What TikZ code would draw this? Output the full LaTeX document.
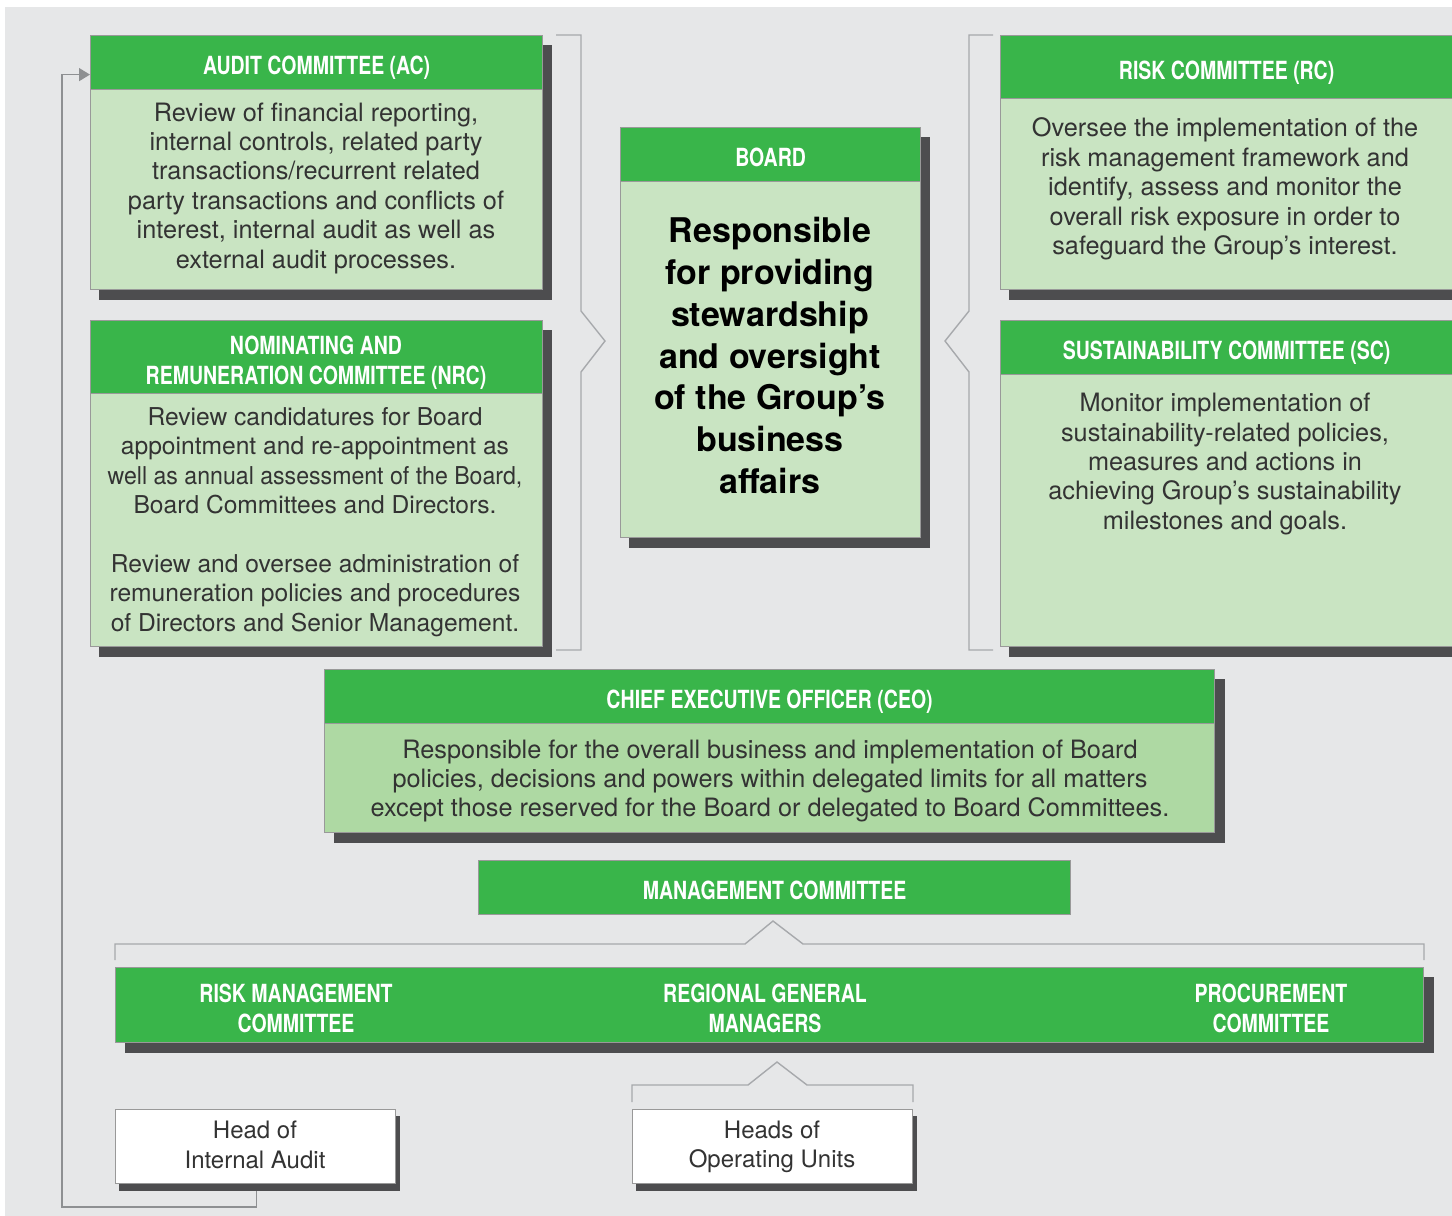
\documentclass[tikz,border=0pt]{standalone}
\usepackage{fontspec}
\usepackage{graphicx}
\setmainfont{TeX Gyre Heros}
\newfontfamily\hdrfont[FakeStretch=0.78]{TeX Gyre Heros}
\usetikzlibrary{arrows.meta,calc}
\definecolor{bggray}{HTML}{E6E7E8}
\definecolor{grn}{HTML}{39B54A}
\definecolor{lgrn}{HTML}{C9E4C2}
\definecolor{mgrn}{HTML}{AED9A3}
\definecolor{shd}{HTML}{4D4D4F}
\definecolor{bord}{HTML}{999999}
\definecolor{txt}{HTML}{333333}
\definecolor{lin}{HTML}{A7A9AC}
\pgfdeclarelayer{bgl}\pgfdeclarelayer{shl}\pgfsetlayers{bgl,shl,main}
\newcommand\myshadow[3]{\begin{pgfonlayer}{shl}\fill[shd] ($(#1)+#3$) rectangle ($(#2)+#3$);\end{pgfonlayer}}
\tikzset{
  hdr/.style={draw=bord, line width=1.2pt, fill=grn, text=white,
    font=\hdrfont\bfseries\fontsize{25}{30}\selectfont, align=center,
    anchor=north west, inner sep=0pt, text height=24pt, text depth=-3pt},
  bartxt/.style={text=white, font=\hdrfont\bfseries\fontsize{25}{30}\selectfont, align=center, inner sep=0pt},
  bodybox/.style={draw=bord, line width=1.2pt, fill=lgrn, anchor=north west, inner sep=0pt},
  whitebox/.style={draw=bord, line width=1.2pt, fill=white, anchor=north west, inner sep=0pt},
  wtxt/.style={text=txt, align=center, font=\fontsize{24}{29.4}\selectfont, inner sep=0pt},
  btxt/.style={text=txt, font=\fontsize{25.3}{29.4}\selectfont, align=center, inner sep=0pt},
  bigtxt/.style={text=black, font=\bfseries\fontsize{34}{41.7}\selectfont, align=center, inner sep=0pt},
  brace/.style={draw=lin, line width=1.4pt},
  conn/.style={draw=lin, line width=1.4pt},
}
\begin{document}
\begin{tikzpicture}[x=1pt,y=-1pt]
\useasboundingbox (0,0) rectangle (1452,1216);
\begin{pgfonlayer}{bgl}
\fill[white] (0,0) rectangle (1452,1216);
\fill[bggray] (5,7) rectangle (1452,1216);
\end{pgfonlayer}

% Audit committee
\node[hdr, minimum width=452, minimum height=54] (acH) at (90,35) {AUDIT COMMITTEE (AC)};
\node[bodybox, minimum width=452, minimum height=200] (acB) at (90,89) {};
\node[btxt] (acT) at (316,188) {Review of financial reporting,\\internal controls, related party\\transactions/recurrent related\\party transactions and conflicts of\\interest, internal audit as well as\\external audit processes.};
\myshadow{acH.north west}{acB.south east}{(9,10)}

% NRC
\node[hdr, minimum width=452, minimum height=73] (nrcH) at (90,320) {};
\node[bartxt] (nrcHT) at (316,363) {NOMINATING AND\\REMUNERATION COMMITTEE (NRC)};
\node[bodybox, minimum width=452, minimum height=253] (nrcB) at (90,393) {};
\node[btxt, font=\fontsize{24.6}{29.4}\selectfont] (nrcT) at (315,522) {Review candidatures for Board\\appointment and re-appointment as\\\scalebox{0.94}[1]{well as annual assessment of the Board,}\\Board Committees and Directors.\\[29.4pt]Review and oversee administration of\\remuneration policies and procedures\\of Directors and Senior Management.};
\myshadow{nrcH.north west}{nrcB.south east}{(9,10)}

% Board
\node[hdr, minimum width=300, minimum height=54] (bdH) at (620,127) {BOARD};
\node[bodybox, minimum width=300, minimum height=356] (bdB) at (620,181) {};
\node[bigtxt] (bdT) at (770,355.5) {Responsible\\for providing\\stewardship\\and oversight\\of the Group’s\\business\\affairs};
\myshadow{bdH.north west}{bdB.south east}{(9,10)}

% Risk committee
\node[hdr, minimum width=452, minimum height=63] (rcH) at (1000,35) {RISK COMMITTEE (RC)};
\node[bodybox, minimum width=452, minimum height=191] (rcB) at (1000,98) {};
\node[btxt] (rcT) at (1225,189) {Oversee the implementation of the\\risk management framework and\\identify, assess and monitor the\\overall risk exposure in order to\\safeguard the Group’s interest.};
\myshadow{rcH.north west}{rcB.south east}{(9,10)}

% Sustainability committee
\node[hdr, minimum width=452, minimum height=54] (scH) at (1000,320) {SUSTAINABILITY COMMITTEE (SC)};
\node[bodybox, minimum width=452, minimum height=272] (scB) at (1000,374) {};
\node[btxt] (scT) at (1225,464) {Monitor implementation of\\sustainability-related policies,\\measures and actions in\\achieving Group’s sustainability\\milestones and goals.};
\myshadow{scH.north west}{scB.south east}{(9,10)}

% Braces
\draw[brace] (556,35) -- (581,35) -- (581,311) -- (605,341) -- (581,372) -- (581,650) -- (556,650);
\draw[brace] (993,35) -- (969,35) -- (969,311) -- (945,341) -- (969,372) -- (969,650) -- (993,650);

% CEO
\node[hdr, minimum width=890, minimum height=54] (ceoH) at (324,669) {CHIEF EXECUTIVE OFFICER (CEO)};
\node[bodybox, fill=mgrn, minimum width=890, minimum height=109] (ceoB) at (324,723) {};
\node[btxt] (ceoT) at (770,781) {Responsible for the overall business and implementation of Board\\policies, decisions and powers within delegated limits for all matters\\except those reserved for the Board or delegated to Board Committees.};
\myshadow{ceoH.north west}{ceoB.south east}{(10,10)}

% Management committee
\node[hdr, minimum width=592, minimum height=54] (mc) at (478,860) {MANAGEMENT COMMITTEE};
\draw[brace] (115,960) -- (115,944) -- (745,944) -- (773,921) -- (803,944) -- (1424,944) -- (1424,960);

% Bar
\node[hdr, minimum width=1308, minimum height=75] (bar) at (115,967) {};
\node[bartxt] (rmc) at (296,1008) {RISK MANAGEMENT\\COMMITTEE};
\node[bartxt] (rgm) at (765,1008) {REGIONAL GENERAL\\MANAGERS};
\node[bartxt] (pc) at (1271,1008) {PROCUREMENT\\COMMITTEE};
\myshadow{bar.north west}{bar.south east}{(10,10)}

\draw[brace] (632,1102) -- (632,1085) -- (748,1085) -- (777,1062) -- (807,1085) -- (913,1085) -- (913,1102);

% Bottom boxes
\node[whitebox, minimum width=280, minimum height=74] (hia) at (115,1109) {};
\node[wtxt] (hiaT) at (255,1145) {Head of\\Internal Audit};
\myshadow{hia.north west}{hia.south east}{(4,7)}
\node[whitebox, minimum width=280, minimum height=74] (hou) at (632,1109) {};
\node[wtxt] (houT) at (772,1147) {Heads of\\Operating Units};
\myshadow{hou.north west}{hou.south east}{(4,7)}

% Feedback connector
\coordinate (fbB) at (62,1207);
\draw[conn, -{Triangle[length=11pt,width=13pt]}, color=lin!85!black]
  ($(hia.south)+(1,7)$) |- (fbB) |- ($(acH.west)+(0,12)$);
\end{tikzpicture}
\end{document}
